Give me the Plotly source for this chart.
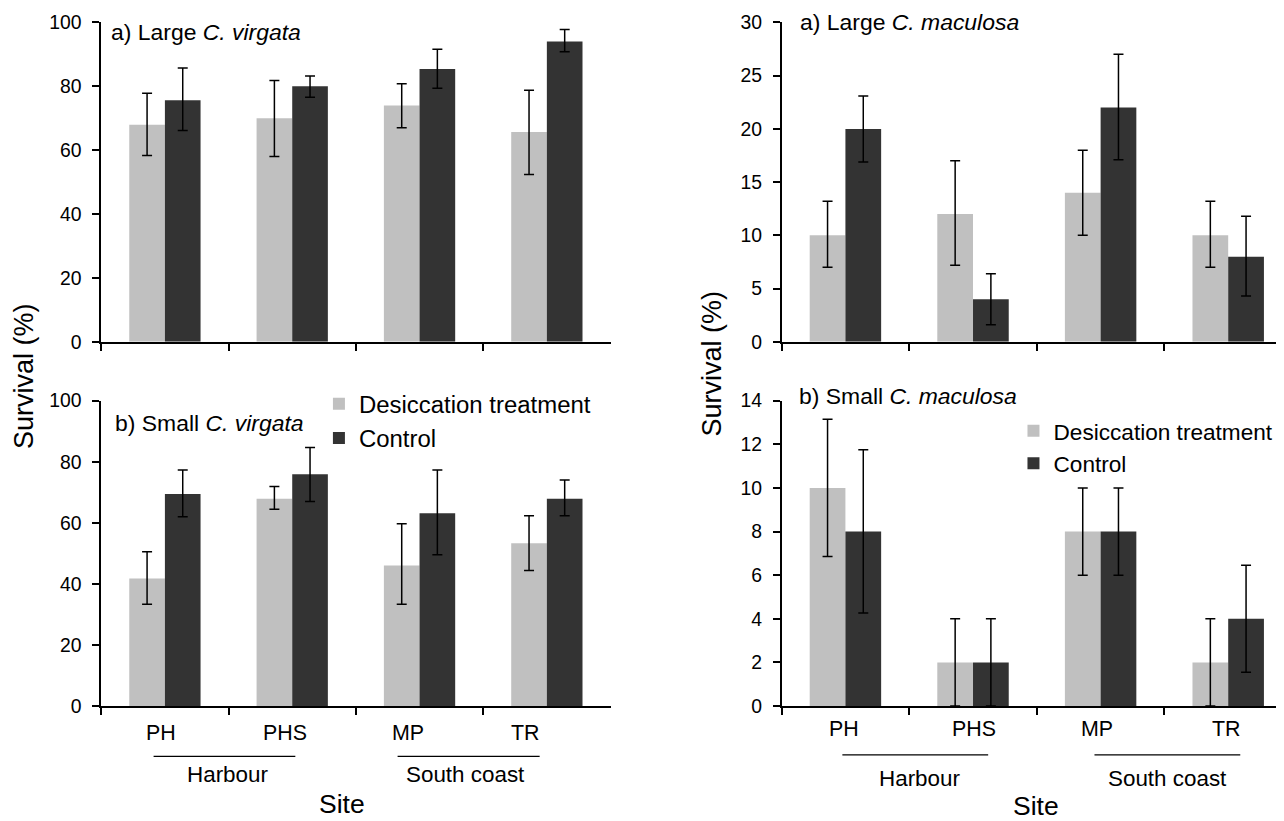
import plotly.graph_objects as go

W, H = 1284, 821
sites = ["PH", "PHS", "MP", "TR"]
series_names = ["Desiccation treatment", "Control"]

# a) Large C. virgata
lv_des = [68, 70, 74, 65.7]
lv_des_lo = [58.3, 58.0, 67.0, 52.4]
lv_des_hi = [77.8, 81.8, 80.8, 78.8]
lv_con = [75.6, 80, 85.4, 94]
lv_con_lo = [66.2, 76.6, 79.4, 90.8]
lv_con_hi = [85.7, 83.2, 91.6, 97.8]

# b) Small C. virgata
sv_des = [41.8, 67.9, 46, 53.3]
sv_des_lo = [33.3, 64.4, 33.3, 44.4]
sv_des_hi = [50.5, 71.9, 59.7, 62.3]
sv_con = [69.4, 75.9, 63.1, 67.9]
sv_con_lo = [62.0, 67.0, 49.5, 62.3]
sv_con_hi = [77.3, 84.7, 77.3, 74.0]

# a) Large C. maculosa
lm_des = [10, 12, 14, 10]
lm_des_lo = [7.0, 7.2, 10.0, 7.0]
lm_des_hi = [13.2, 17.0, 18.0, 13.2]
lm_con = [20, 4, 22, 8]
lm_con_lo = [16.9, 1.6, 17.1, 4.3]
lm_con_hi = [23.1, 6.4, 27.0, 11.8]

# b) Small C. maculosa
sm_des = [10, 2, 8, 2]
sm_des_lo = [6.85, 0, 6, 0]
sm_des_hi = [13.15, 4, 10, 4]
sm_con = [8, 2, 8, 4]
sm_con_lo = [4.27, 0, 6, 1.55]
sm_con_hi = [11.75, 4, 10, 6.45]

groups = ["Harbour", "South coast"]
panel_titles = [
    "a) Large <i>C. virgata</i>",
    "a) Large <i>C. maculosa</i>",
    "b) Small <i>C. virgata</i>",
    "b) Small <i>C. maculosa</i>",
]

LIGHT = "#c0c0c0"
DARK = "#333333"
FONT = "Liberation Sans, Arial, sans-serif"

# screen-pixel -> paper mapping (compensates page offset/scale of the capture)
SX, OX = 0.98769, 8.0
SY, OY = 0.9752, 18.0
FS = 0.981


def px_x(t):
    return min(1.0, (t / SX - OX) / W)


def px_y(t):
    return 1 - (t / SY - OY) / H


def fs(s):
    return s / FS


fig = go.Figure()


def add_panel(idx, des, des_lo, des_hi, con, con_lo, con_hi, legend=None):
    xa = "x" if idx == 1 else f"x{idx}"
    ya = "y" if idx == 1 else f"y{idx}"
    for name, vals, lo, hi, col in [
        (series_names[0], des, des_lo, des_hi, LIGHT),
        (series_names[1], con, con_lo, con_hi, DARK),
    ]:
        fig.add_trace(go.Bar(
            x=sites, y=vals, name=name, marker=dict(color=col, line=dict(width=0)),
            error_y=dict(type="data", symmetric=False,
                         array=[h - v for h, v in zip(hi, vals)],
                         arrayminus=[v - l for v, l in zip(vals, lo)],
                         color="black", thickness=1.5, width=5),
            xaxis=xa, yaxis=ya,
            showlegend=legend is not None,
            legend=legend if legend else "legend",
        ))


add_panel(1, lv_des, lv_des_lo, lv_des_hi, lv_con, lv_con_lo, lv_con_hi)
add_panel(2, lm_des, lm_des_lo, lm_des_hi, lm_con, lm_con_lo, lm_con_hi)
add_panel(3, sv_des, sv_des_lo, sv_des_hi, sv_con, sv_con_lo, sv_con_hi, legend="legend")
add_panel(4, sm_des, sm_des_lo, sm_des_hi, sm_con, sm_con_lo, sm_con_hi, legend="legend2")

left_dom = [px_x(100), px_x(603)]
right_dom = [px_x(772), px_x(1279)]
top_dom = [px_y(341), px_y(21)]
bot_dom = [px_y(706), px_y(400)]

tickfont = dict(family=FONT, size=fs(19), color="black")


def xaxis(dom, anchor):
    return dict(domain=dom, anchor=anchor, type="category", showline=True,
                linecolor="black", linewidth=1.5, ticks="outside", tickson="boundaries",
                ticklen=7, tickwidth=1.5, tickcolor="black", showticklabels=False,
                showgrid=False, zeroline=False, range=[-0.5, 3.5], fixedrange=True)


def yaxis(dom, anchor, rng, dtick):
    return dict(domain=dom, anchor=anchor, range=rng, dtick=dtick, showline=True,
                linecolor="black", linewidth=1.5, ticks="outside", ticklen=7,
                tickwidth=1.5, tickcolor="black", tickfont=tickfont, ticklabelstandoff=7,
                showgrid=False, zeroline=False, fixedrange=True)


fig.update_layout(
    width=W, height=H,
    margin=dict(l=0, r=0, t=0, b=0),
    paper_bgcolor="white", plot_bgcolor="white",
    bargap=0.44, bargroupgap=0, barmode="group",
    font=dict(family=FONT, color="black"),
    xaxis=xaxis(left_dom, "y"),
    yaxis=yaxis(top_dom, "x", [0, 100], 20),
    xaxis2=xaxis(right_dom, "y2"),
    yaxis2=yaxis(top_dom, "x2", [0, 30], 5),
    xaxis3=xaxis(left_dom, "y3"),
    yaxis3=yaxis(bot_dom, "x3", [0, 100], 20),
    xaxis4=xaxis(right_dom, "y4"),
    yaxis4=yaxis(bot_dom, "x4", [0, 14], 2),
    legend=dict(x=px_x(315), y=px_y(381), xanchor="left", yanchor="top",
                font=dict(family=FONT, size=fs(23.5), color="black"),
                bgcolor="rgba(0,0,0,0)", itemwidth=30, tracegroupgap=0),
    legend2=dict(x=px_x(1001), y=px_y(409), xanchor="left", yanchor="top",
                 font=dict(family=FONT, size=fs(22.2), color="black"),
                 bgcolor="rgba(0,0,0,0)", itemwidth=30, tracegroupgap=0),
)

ann = []
# panel titles
for txt, (x, y) in zip(panel_titles, [(108, 31), (788, 21), (112, 422), (787, 395)]):
    ann.append(dict(text=txt, x=px_x(x), y=px_y(y), xref="paper", yref="paper",
                    xanchor="left", yanchor="middle", showarrow=False,
                    font=dict(family=FONT, size=fs(22.5), color="black")))

# category labels (bottom panels)
label_shifts = {"x3": [-3.5, -7.6, -11.4, -21], "x4": [-1, 1.4, -3.9, -1.6]}
label_y = {"x3": 733, "x4": 729}
for xa in ["x3", "x4"]:
    for s, sh in zip(sites, label_shifts[xa]):
        ann.append(dict(text=s, x=s, xref=xa, y=px_y(label_y[xa]), yref="paper", xshift=sh,
                        xanchor="center", yanchor="middle", showarrow=False,
                        font=dict(family=FONT, size=fs(21), color="black")))

# group labels + lines
shapes = []
grp = [
    (groups[0], 151.7, 291.7, 224.7, 775, 756.5),
    (groups[1], 392.7, 533, 460, 775, 756.5),
    (groups[0], 832, 976, 908.4, 779, 755),
    (groups[1], 1081, 1225, 1153, 779, 755),
]
for name, x0, x1, tx, ty, ly in grp:
    shapes.append(dict(type="line", xref="paper", yref="paper",
                       x0=px_x(x0), x1=px_x(x1), y0=px_y(ly), y1=px_y(ly),
                       line=dict(color="black", width=1.3)))
    ann.append(dict(text=name, x=px_x(tx), y=px_y(ty), xref="paper", yref="paper",
                    xanchor="center", yanchor="middle", showarrow=False,
                    font=dict(family=FONT, size=fs(22), color="black")))

# axis titles
for tx, ty in [(338, 804), (1023, 806)]:
    ann.append(dict(text="Site", x=px_x(tx), y=px_y(ty), xref="paper", yref="paper",
                    xanchor="center", yanchor="middle", showarrow=False,
                    font=dict(family=FONT, size=fs(26), color="black")))
for tx, ty in [(23, 375), (703, 363)]:
    ann.append(dict(text="Survival (%)", x=px_x(tx), y=px_y(ty), xref="paper", yref="paper",
                    xanchor="center", yanchor="middle", showarrow=False, textangle=-90,
                    font=dict(family=FONT, size=fs(26.5), color="black")))

fig.update_layout(annotations=ann, shapes=shapes)
fig.write_html("out.html")
